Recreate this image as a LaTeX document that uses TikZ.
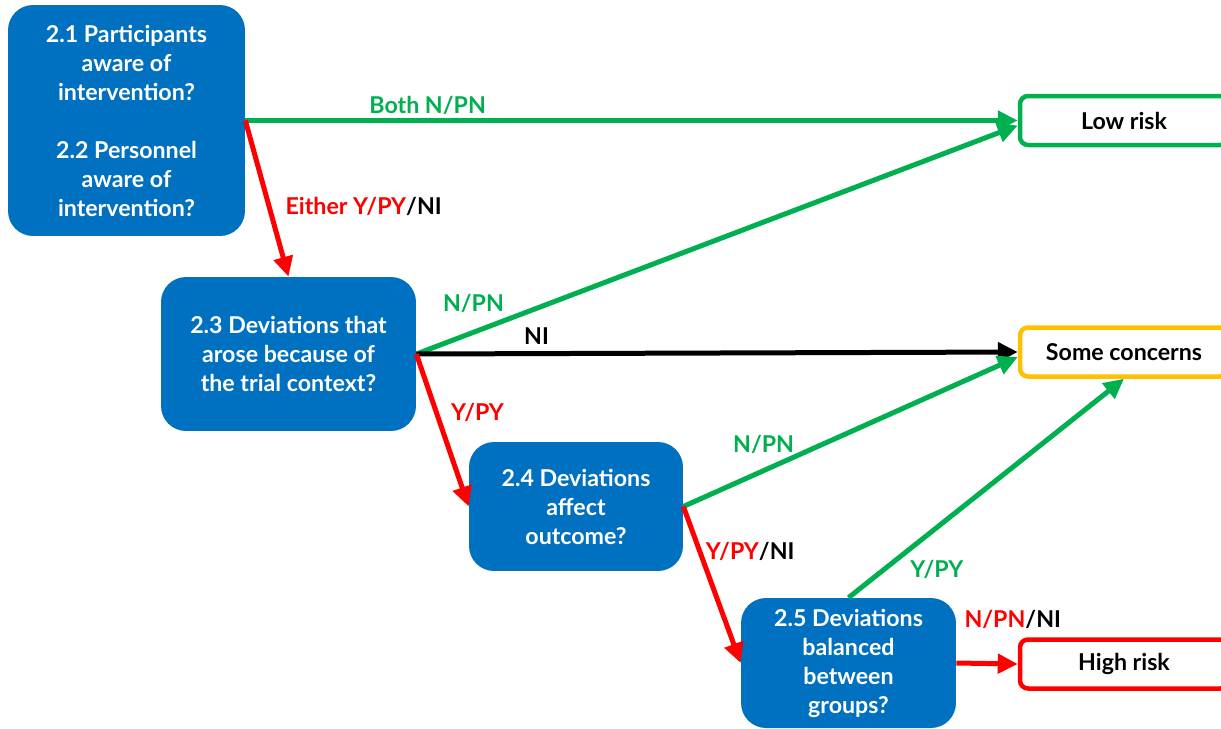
\documentclass[tikz,border=0pt]{standalone}
\usepackage{fontspec}
\setmainfont{Lato}
\usetikzlibrary{arrows.meta,positioning}
\definecolor{qblue}{HTML}{0070C0}
\definecolor{okgreen}{HTML}{00B050}
\definecolor{badred}{HTML}{FF0000}
\definecolor{midamber}{HTML}{FFC000}

\begin{document}
\begin{tikzpicture}[x=0.02cm,y=-0.02cm,
    font=\fontsize{13.2}{16.5}\selectfont\bfseries,
    question/.style={fill=qblue,text=white,rounded corners=0.5cm,align=center,inner sep=0pt},
    verdict/.style={draw,line width=0.09cm,rounded corners=0.16cm,fill=white,text=black,
        minimum width=4.16cm,minimum height=0.98cm,inner sep=0pt},
    flow/.style={line width=0.1cm,-{Triangle[length=0.4cm,width=0.38cm]}},
    tag/.style={inner sep=1pt}]
    \clip (0,0) rectangle (1221,728);
    \node[question,minimum width=4.74cm,minimum height=4.62cm] (q21) at (126.5,120.5)
        {2.1 Participants\\aware of\\intervention?\\[16.5pt]2.2 Personnel\\aware of\\intervention?};
    \node[question,minimum width=5.1cm,minimum height=3.08cm] (q23) at (288.5,354)
        {2.3 Deviations that\\arose because of\\the trial context?};
    \node[question,minimum width=4.28cm,minimum height=2.58cm] (q24) at (576,506.5)
        {2.4 Deviations\\affect\\outcome?};
    \node[question,minimum width=4.3cm,minimum height=2.6cm] (q25) at (848.5,663)
        {2.5 Deviations\\balanced\\between\\groups?};
    \node[verdict,draw=okgreen] (low) at (1124,120.5) {Low risk};
    \node[verdict,draw=midamber] (some) at (1124,352) {Some concerns};
    \node[verdict,draw=badred] (high) at (1124,664) {High risk};

    \draw[flow,okgreen] (q21.east) -- node[tag,pos=0.236,above=1pt] (lboth) {Both N/PN} (low.west);
    \draw[flow,badred] (q21.east) -- node[tag,pos=0.55,right=7pt,text=black] (leither)
        {\textcolor{badred}{Either Y/PY}/NI} (q23.north);
    \draw[flow,okgreen] (q23.east) -- node[tag,pos=0.095,above=9pt] (l23low) {N/PN} ([yshift=-0.1cm]low.west);
    \draw[flow,black] (q23.east) -- node[tag,pos=0.2,above=3pt] (l23some) {NI} (some.west);
    \draw[flow,badred] (q23.east) -- node[tag,pos=0.38,right=6pt] (l23q24) {Y/PY} (q24.west);
    \draw[flow,okgreen] (q24.east) -- node[tag,pos=0.24,above=7pt] (l24some) {N/PN} ([yshift=-0.1cm]some.west);
    \draw[flow,badred] (q24.east) -- node[tag,pos=0.29,right=1pt,text=black] (l24q25)
        {\textcolor{badred}{Y/PY}/NI} (q25.west);
    \draw[flow,okgreen] (q25.north) -- node[tag,pos=0.19,anchor=north west,xshift=3pt] (l25some) {Y/PY} (some.south);
    \draw[flow,badred] (q25.east) -- (high.west);
    \node[tag,above=4pt of high.north west,xshift=-0.1cm] (l25high) {\textcolor{badred}{N/PN}/NI};
\end{tikzpicture}
\end{document}
